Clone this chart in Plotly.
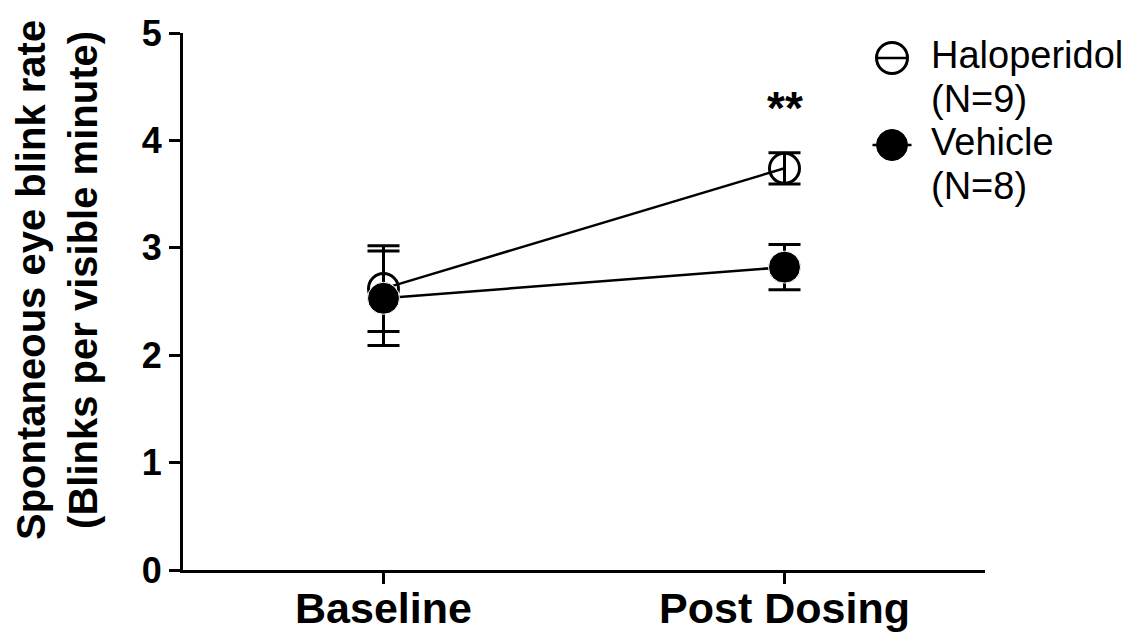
import plotly.graph_objects as go

# Time points and group summaries (mean ± SEM)
timepoints = ["Baseline", "Post Dosing"]
haloperidol_mean = [2.62, 3.74]
haloperidol_sem = [0.40, 0.145]
vehicle_mean = [2.53, 2.82]
vehicle_sem = [0.44, 0.21]
group_names = ["Haloperidol", "Vehicle"]
group_sizes = ["(N=9)", "(N=8)"]
significance = "**"
sig_y = 4.3
y_ticks = [0, 1, 2, 3, 4, 5]

FONT = "Liberation Sans, Arial, sans-serif"
W, H = 1133, 637
M = dict(l=183, r=148, t=33, b=67)
PW = W - M["l"] - M["r"]
PH = H - M["t"] - M["b"]


def px_x(px):
    """Page pixel column -> paper x."""
    return (px - M["l"]) / PW


def px_y(py):
    """Page pixel row -> paper y."""
    return (H - M["b"] - py) / PH


fig = go.Figure()

fig.add_trace(go.Scatter(
    x=timepoints, y=haloperidol_mean, name=group_names[0],
    mode="lines+markers",
    line=dict(color="black", width=2.5),
    marker=dict(symbol="circle-open", size=30, color="black", line=dict(width=3, color="black")),
    error_y=dict(type="data", array=haloperidol_sem, visible=True, color="black", thickness=3, width=16),
))

fig.add_trace(go.Scatter(
    x=timepoints, y=vehicle_mean, name=group_names[1],
    mode="lines+markers",
    line=dict(color="black", width=2.5),
    marker=dict(symbol="circle", size=32, color="black", line=dict(width=1, color="white")),
    error_y=dict(type="data", array=vehicle_sem, visible=True, color="black", thickness=3, width=16),
))

fig.add_annotation(
    x=timepoints[1], y=sig_y, text=significance, showarrow=False,
    font=dict(family=FONT, size=46, color="black", weight="bold"),
    xref="x", yref="y",
)

# Y-axis title, two lines, rotated
fig.add_annotation(
    x=px_x(57), y=px_y(280), xref="paper", yref="paper",
    text="Spontaneous eye blink rate<br>(Blinks per visible minute)",
    textangle=-90, showarrow=False, xanchor="center", yanchor="middle",
    font=dict(family=FONT, size=40, color="black", weight="bold"),
)

# Hand-drawn key: symbol on the left, two text lines on the right
key_rows = [58, 145]
key_cx = 892
key_r = 15.5
for i, row in enumerate(key_rows):
    if i == 0:
        fig.add_shape(type="circle", xref="paper", yref="paper",
                      x0=px_x(key_cx - key_r), x1=px_x(key_cx + key_r),
                      y0=px_y(row + key_r), y1=px_y(row - key_r),
                      line=dict(color="black", width=3), fillcolor="rgba(0,0,0,0)")
        fig.add_shape(type="line", xref="paper", yref="paper",
                      x0=px_x(key_cx - key_r), x1=px_x(key_cx + key_r),
                      y0=px_y(row), y1=px_y(row),
                      line=dict(color="black", width=2.5))
    else:
        fig.add_shape(type="line", xref="paper", yref="paper",
                      x0=px_x(key_cx - key_r - 4), x1=px_x(key_cx + key_r + 4),
                      y0=px_y(row), y1=px_y(row),
                      line=dict(color="black", width=2.5))
        fig.add_shape(type="circle", xref="paper", yref="paper",
                      x0=px_x(key_cx - key_r), x1=px_x(key_cx + key_r),
                      y0=px_y(row + key_r), y1=px_y(row - key_r),
                      line=dict(color="black", width=1), fillcolor="black")
    for j, txt in enumerate([group_names[i], group_sizes[i]]):
        fig.add_annotation(
            x=px_x(929), y=px_y(row - 3 + j * 44), xref="paper", yref="paper",
            text=txt, showarrow=False, xanchor="left", yanchor="middle",
            font=dict(family=FONT, size=38, color="black"),
        )

fig.update_layout(
    width=W, height=H,
    margin=M,
    paper_bgcolor="white", plot_bgcolor="white",
    font=dict(family=FONT, color="black"),
    showlegend=False,
)

fig.update_xaxes(
    type="category", range=[-0.5, 1.5], automargin=False,
    showline=True, linecolor="black", linewidth=3,
    ticks="outside", ticklen=11, tickwidth=3, tickcolor="black",
    showgrid=False, zeroline=False, ticklabelstandoff=-13,
    tickfont=dict(family=FONT, size=43, color="black", weight="bold"),
)

fig.update_yaxes(
    range=[0, 5], tickvals=y_ticks, automargin=False,
    showline=True, linecolor="black", linewidth=3,
    ticks="outside", ticklen=11, tickwidth=3, tickcolor="black",
    showgrid=False, zeroline=False,
    tickfont=dict(family=FONT, size=36, color="black", weight="bold"),
)

fig.write_html("out.html")
